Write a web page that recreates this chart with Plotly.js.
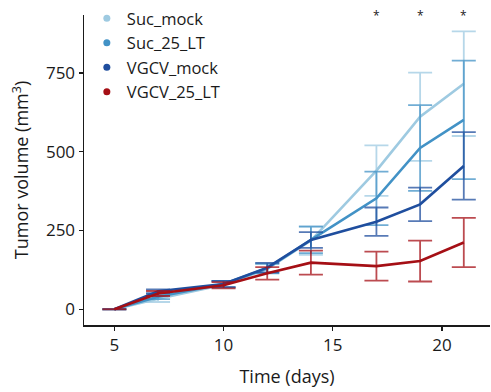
<!DOCTYPE html>
<html>
<head>
<meta charset="utf-8">
<script src="https://cdn.plot.ly/plotly-3.0.1.min.js"></script>
<style>html,body{margin:0;padding:0;background:#fff;}#chart{width:491px;height:392px;}</style>
</head>
<body>
<div id="chart"></div>
<script>
const days = [5, 7, 10, 12, 14, 17, 19, 21];
const groups = ["Suc_mock", "Suc_25_LT", "VGCV_mock", "VGCV_25_LT"];
const sucMock = [0, 33, 78, 128, 218, 440, 611, 716];
const sucMockErr = [0, 10, 10, 15, 45, 80, 140, 166];
const suc25 = [0, 40, 80, 130, 220, 352, 512, 601];
const suc25Err = [0, 8, 10, 15, 42, 85, 136, 188];
const vgcvMock = [0, 57, 80, 132, 220, 278, 333, 455];
const vgcvMockErr = [0, 6, 10, 15, 25, 45, 53, 107];
const vgcv25 = [0, 50, 76, 114, 148, 137, 153, 212];
const vgcv25Err = [0, 8, 10, 20, 38, 46, 65, 78];
const starDays = [17, 19, 21];
const starLabels = ["*", "*", "*"];
const xTicks = [5, 10, 15, 20];
const yTicks = [0, 250, 500, 750];

const colors = ["#9ecae1", "#4292c6", "#1f4e9e", "#a50f15"];
const errColors = ["rgba(158,202,225,0.75)", "rgba(66,146,198,0.75)", "rgba(31,78,158,0.75)", "rgba(165,15,21,0.75)"];
const values = [sucMock, suc25, vgcvMock, vgcv25];
const errs = [sucMockErr, suc25Err, vgcvMockErr, vgcv25Err];

const traces = [];
groups.forEach((g, i) => {
  traces.push({
    x: days, y: values[i], type: "scatter", mode: "lines", name: g, showlegend: false,
    line: {color: colors[i], width: 2.6},
    error_y: {type: "data", array: errs[i], visible: true, color: errColors[i], thickness: 1.8, width: 12}
  });
});
groups.forEach((g, i) => {
  traces.push({
    x: [null], y: [null], type: "scatter", mode: "markers", name: g, showlegend: true,
    marker: {color: colors[i], size: 7}
  });
});

const font = "Open Sans, Noto Sans, sans-serif";
const layout = {
  width: 491, height: 392,
  margin: {l: 84, r: 1, t: 10, b: 67},
  paper_bgcolor: "#fff", plot_bgcolor: "#fff",
  font: {family: font, size: 17, color: "#1a1a1a"},
  showlegend: true,
  legend: {x: 0.007, y: 1.045, xanchor: "left", yanchor: "top", bgcolor: "rgba(0,0,0,0)",
           font: {family: font, size: 16.5, color: "#1a1a1a"}, tracegroupgap: 0, itemwidth: 30},
  xaxis: {
    range: [3.61, 22.2], tickvals: xTicks, ticktext: xTicks.map(String),
    showgrid: false, zeroline: false, showline: true, linecolor: "#1a1a1a", linewidth: 1.5,
    ticks: "outside", ticklen: 4, tickwidth: 1.2, tickcolor: "#1a1a1a",
    tickfont: {family: font, size: 17},
    title: {text: "Time (days)", font: {family: font, size: 18}, standoff: 15}
  },
  yaxis: {
    range: [-50, 934], tickvals: yTicks, ticktext: yTicks.map(String),
    showgrid: false, zeroline: false, showline: true, linecolor: "#1a1a1a", linewidth: 1.5,
    ticks: "outside", ticklen: 4, tickwidth: 1.2, tickcolor: "#1a1a1a",
    tickfont: {family: font, size: 17},
    title: {text: "Tumor volume (mm<sup>3</sup>)", font: {family: font, size: 18}, standoff: 12}
  },
  annotations: starDays.map((d, i) => ({
    x: d, y: 1.0, xref: "x", yref: "paper", text: starLabels[i], showarrow: false,
    font: {family: font, size: 12, color: "#1a1a1a"}, yanchor: "middle"
  }))
};

Plotly.newPlot("chart", traces, layout, {displayModeBar: false, staticPlot: true});
</script>
</body>
</html>
